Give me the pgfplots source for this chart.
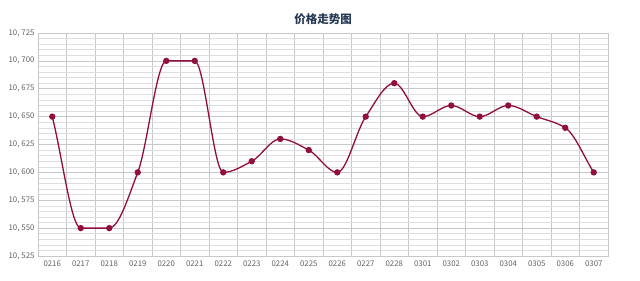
\documentclass[border=0pt]{standalone}
\usepackage{pgfplots}
\pgfplotsset{compat=1.18}
\usepackage{fontspec}
\setmainfont{Noto Sans CJK SC}
\definecolor{linec}{RGB}{145,16,58}
\definecolor{titlec}{RGB}{38,58,86}
\definecolor{gridmaj}{RGB}{200,200,200}
\definecolor{gridmin}{RGB}{222,222,222}
\makeatletter
\newcount\mono@n
\newcount\mono@k
\newcount\mono@kk
\newcount\mono@last
\def\mono@letcs#1#2{\expandafter\let\csname #1\expandafter\endcsname\csname #2\endcsname}
\def\pgfplothandlermonotone{%
  \def\pgf@plotstreamstart{%
    \global\mono@n=0
    \global\let\pgf@plotstreampoint=\mono@point
    \global\let\pgf@plotstreamspecial=\pgfutil@gobble
    \global\let\pgf@plotstreamend=\mono@end
  }%
}
\def\mono@point#1{%
  \pgf@process{#1}%
  \expandafter\xdef\csname mono@x@\the\mono@n\endcsname{\pgf@sys@tonumber\pgf@x}%
  \expandafter\xdef\csname mono@y@\the\mono@n\endcsname{\pgf@sys@tonumber\pgf@y}%
  \global\advance\mono@n by 1
}
% loop 1: secant slopes
\def\mono@loopA{%
  \ifnum\mono@kk<\mono@n
    \edef\mono@xa{\csname mono@x@\the\mono@k\endcsname}%
    \edef\mono@ya{\csname mono@y@\the\mono@k\endcsname}%
    \edef\mono@xb{\csname mono@x@\the\mono@kk\endcsname}%
    \edef\mono@yb{\csname mono@y@\the\mono@kk\endcsname}%
    \pgfmathsetmacro\mono@tmp{(\mono@yb-\mono@ya)/(\mono@xb-\mono@xa)}%
    \expandafter\let\csname mono@d@\the\mono@k\endcsname\mono@tmp
    \advance\mono@k 1 \advance\mono@kk 1
    \expandafter\mono@loopA
  \fi
}
% loop 2: interior tangents
\def\mono@loopB{%
  \ifnum\mono@k<\mono@last
    \mono@kk=\mono@k \advance\mono@kk -1
    \edef\mono@da{\csname mono@d@\the\mono@kk\endcsname}%
    \edef\mono@db{\csname mono@d@\the\mono@k\endcsname}%
    \pgfmathsetmacro\mono@p{\mono@da*\mono@db}%
    \ifdim\mono@p pt>0pt
      \pgfmathsetmacro\mono@tmp{2*\mono@da*\mono@db/(\mono@da+\mono@db)}%
    \else
      \def\mono@tmp{0}%
    \fi
    \expandafter\let\csname mono@m@\the\mono@k\endcsname\mono@tmp
    \advance\mono@k 1
    \expandafter\mono@loopB
  \fi
}
% loop 3: segments
\def\mono@loopC{%
  \ifnum\mono@kk<\mono@n
    \edef\mono@xa{\csname mono@x@\the\mono@k\endcsname}%
    \edef\mono@ya{\csname mono@y@\the\mono@k\endcsname}%
    \edef\mono@xb{\csname mono@x@\the\mono@kk\endcsname}%
    \edef\mono@yb{\csname mono@y@\the\mono@kk\endcsname}%
    \edef\mono@ma{\csname mono@m@\the\mono@k\endcsname}%
    \edef\mono@mb{\csname mono@m@\the\mono@kk\endcsname}%
    \pgfmathsetmacro\mono@h{(\mono@xb-\mono@xa)/3}%
    \pgfmathsetmacro\mono@cax{\mono@xa+\mono@h}%
    \pgfmathsetmacro\mono@cay{\mono@ya+\mono@ma*\mono@h}%
    \pgfmathsetmacro\mono@cbx{\mono@xb-\mono@h}%
    \pgfmathsetmacro\mono@cby{\mono@yb-\mono@mb*\mono@h}%
    \pgfpathcurveto{\pgfqpoint{\mono@cax pt}{\mono@cay pt}}{\pgfqpoint{\mono@cbx pt}{\mono@cby pt}}{\pgfqpoint{\mono@xb pt}{\mono@yb pt}}%
    \advance\mono@k 1 \advance\mono@kk 1
    \expandafter\mono@loopC
  \fi
}
\def\mono@end{%
  \mono@k=0 \mono@kk=1
  \mono@loopA
  \mono@last=\mono@n \advance\mono@last -1
  \mono@kk=\mono@n \advance\mono@kk -2
  \mono@letcs{mono@m@0}{mono@d@0}%
  \mono@letcs{mono@m@\the\mono@last}{mono@d@\the\mono@kk}%
  \mono@k=1
  \mono@loopB
  \edef\mono@xa{\csname mono@x@0\endcsname}%
  \edef\mono@ya{\csname mono@y@0\endcsname}%
  \pgf@plot@first@action{\pgfqpoint{\mono@xa pt}{\mono@ya pt}}%
  \mono@k=0 \mono@kk=1
  \mono@loopC
}
\tikzset{monotone/.code={\def\tikz@plot@handler{\pgfplothandlermonotone}}}
\makeatother
\begin{document}
\begin{tikzpicture}
\begin{axis}[
  at={(0pt,0pt)}, anchor=south west,
  scale only axis, width=570pt, height=223pt,
  xmin=-0.5, xmax=19.5, ymin=10.525, ymax=10.725,
  xtick={0,...,19},
  xticklabels={0216,0217,0218,0219,0220,0221,0222,0223,0224,0225,0226,0227,0228,0301,0302,0303,0304,0305,0306,0307},
  minor xtick={-0.5,0.5,...,19.5},
  ytick={10.525,10.55,...,10.726},
  minor ytick={10.525,10.53,...,10.726},
  xmajorgrids=false, xminorgrids=true, ymajorgrids=true, yminorgrids=true,
  minor x grid style={gridmaj, line width=0.6pt},
  major y grid style={gridmaj, line width=0.6pt},
  minor y grid style={gridmin, line width=0.5pt},
  major tick length=0pt, minor tick length=0pt,
  axis line style={gridmaj},
  tick label style={font=\fontsize{7.8}{9}\selectfont, text=black!62},
  /pgf/number format/assume math mode=true,
  yticklabel style={/pgf/number format/.cd, fixed, fixed zerofill, precision=3, set decimal separator={,\hspace{2pt}}},
  yticklabel={\pgfmathprintnumber{\tick}},
  xticklabel style={yshift=-1pt},
  title={\textbf{价格走势图}},
  title style={font=\fontsize{11.5}{13}\selectfont, text=titlec, yshift=-1pt},
  clip=false,
]
\addplot[linec, line width=1.3pt, monotone, mark=*, mark size=2.5pt, mark options={fill=linec, draw=linec}] coordinates {
(0,10.65) (1,10.55) (2,10.55) (3,10.60) (4,10.70) (5,10.70) (6,10.60) (7,10.61) (8,10.63) (9,10.62)
(10,10.60) (11,10.65) (12,10.68) (13,10.65) (14,10.66) (15,10.65) (16,10.66) (17,10.65) (18,10.64) (19,10.60)
};
\end{axis}
\useasboundingbox (-38pt,-25pt) rectangle (602pt,256pt);
\end{tikzpicture}
\end{document}
